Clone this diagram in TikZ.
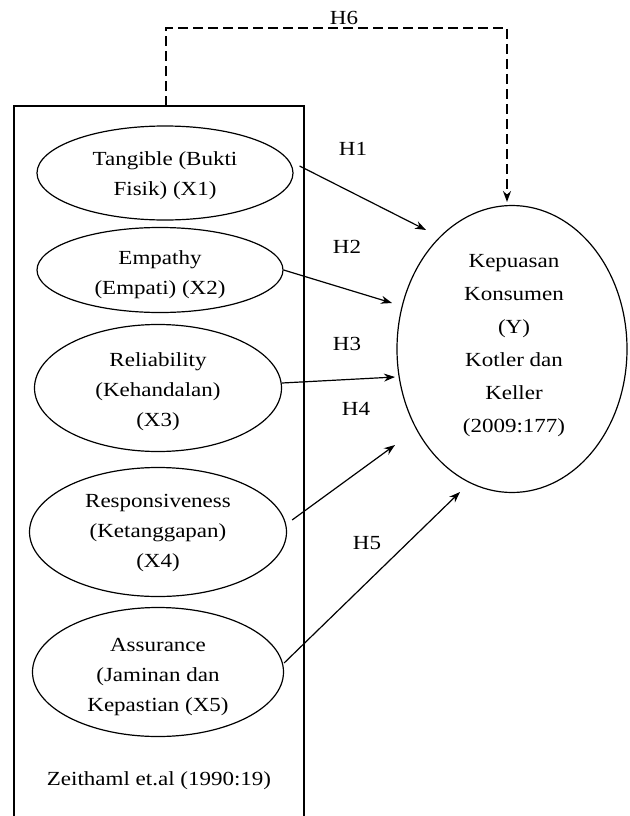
\documentclass[tikz,border=0pt]{standalone}
\usepackage{fontspec}
\newfontfamily\dfont[FakeStretch=1.15]{Liberation Serif}
\usetikzlibrary{shapes.geometric,arrows.meta}
\begin{document}
\begin{tikzpicture}[x=1pt,y=-1pt,
  every node/.style={font=\dfont\fontsize{20}{30}\selectfont},
  oval/.style={draw,ellipse,line width=1.2pt,inner sep=0pt},
  txt/.style={align=center,inner sep=0pt},
  hlab/.style={inner sep=0pt},
  conn/.style={line width=1.2pt,-{Stealth[length=11pt,width=8pt]}},
  dconn/.style={line width=1.6pt,dash pattern=on 10pt off 5pt,-{Stealth[length=11pt,width=8pt]}}]
\useasboundingbox[fill=white] (0,0) rectangle (629,816);
% frame
\draw[line width=1.3pt] (14,830) -- (14,106) -- (304,106) -- (304,830);
\coordinate (rtop) at (166,106);
% ellipses
\node[oval,minimum width=256pt,minimum height=94pt] (x1) at (165,173) {};
\node[txt] (x1t) at (165,176) {Tangible (Bukti\\Fisik) (X1)};
\node[oval,minimum width=246pt,minimum height=85pt] (x2) at (160,270) {};
\node[txt] (x2t) at (160,275) {Empathy\\(Empati) (X2)};
\node[oval,minimum width=247pt,minimum height=127pt] (x3) at (158,388) {};
\node[txt] (x3t) at (158,392) {Reliability\\(Kehandalan)\\(X3)};
\node[oval,minimum width=257pt,minimum height=129pt] (x4) at (158,532) {};
\node[txt] (x4t) at (158,533) {Responsiveness\\(Ketanggapan)\\(X4)};
\node[oval,minimum width=251pt,minimum height=129pt] (x5) at (158,672) {};
\node[txt] (x5t) at (158,677) {Assurance\\(Jaminan dan\\Kepastian (X5)};
\node[txt] (src) at (159,781) {Zeithaml et.al (1990:19)};
% dependent
\node[oval,minimum width=230pt,minimum height=287pt] (y) at (512,349) {};
\node[txt,font=\dfont\fontsize{20}{33}\selectfont] (yt) at (514,346) {Kepuasan\\Konsumen\\(Y)\\Kotler dan\\Keller\\(2009:177)};
% arrow end points
\coordinate (t1) at (426,230);
\coordinate (t2) at (392,303);
\coordinate (t3) at (395,377);
\coordinate (t4) at (395,445);
\coordinate (t5) at (460,492);
\coordinate (c1) at (166,28);
\coordinate (c2) at (507,28);
\coordinate (t6) at (507,202);
\draw[conn] ([xshift=6pt,yshift=7pt]x1.east) -- (t1);
\draw[conn] (x2.east) -- (t2);
\draw[conn] ([yshift=5pt]x3.east) -- (t3);
\draw[conn] ([xshift=5pt,yshift=12pt]x4.east) -- (t4);
\draw[conn] ([yshift=9pt]x5.east) -- (t5);
\draw[dconn] (rtop) -- (c1) -- (c2) -- (t6);
% labels
\node[hlab] (h1) at (353,149) {H1};
\node[hlab] (h2) at (347,247) {H2};
\node[hlab] (h3) at (347,344) {H3};
\node[hlab] (h4) at (356,409) {H4};
\node[hlab] (h5) at (367,543) {H5};
\node[hlab,fill=white,inner sep=1pt] (h6) at (344,18) {H6};
\end{tikzpicture}
\end{document}
